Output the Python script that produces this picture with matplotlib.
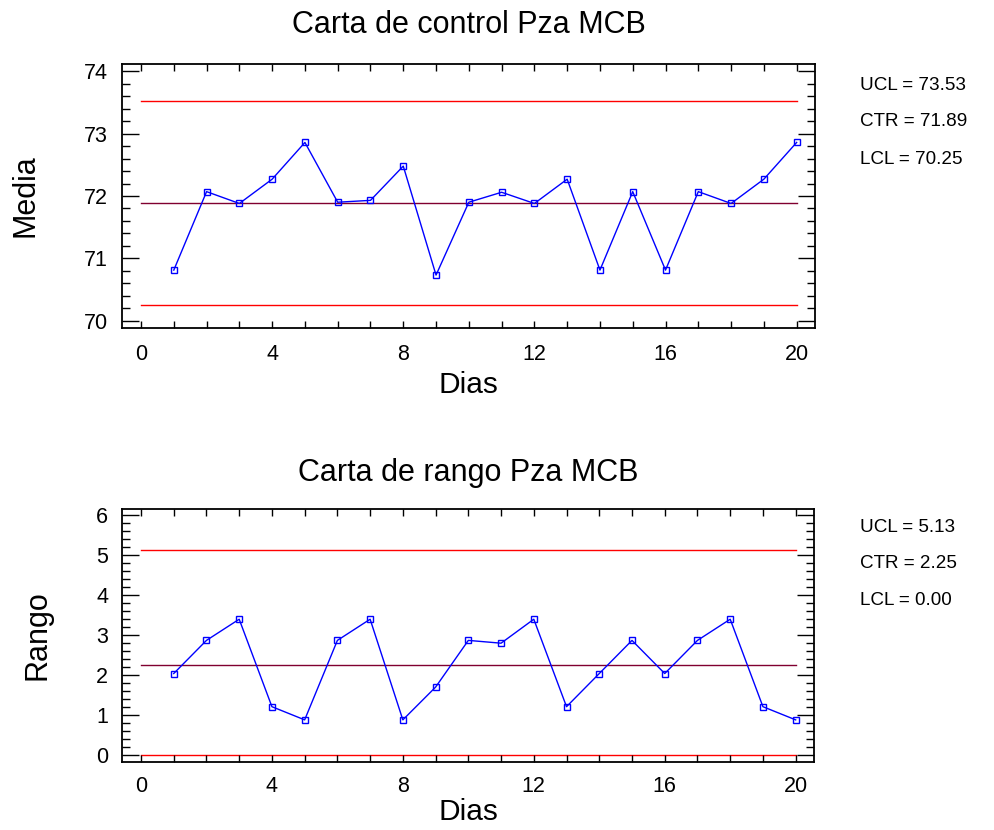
import matplotlib
matplotlib.use("Agg")
import matplotlib.pyplot as plt
from matplotlib.ticker import MultipleLocator

plt.rcParams['font.family'] = ['Liberation Sans', 'DejaVu Sans']

# Subgroup data (20 days)
dias = list(range(1, 21))
medias = [70.81, 72.07, 71.88, 72.27, 72.86, 71.90, 71.93, 72.48, 70.73, 71.90,
          72.06, 71.88, 72.27, 70.81, 72.07, 70.81, 72.07, 71.88, 72.27, 72.86]
rangos = [2.04, 2.87, 3.40, 1.21, 0.88, 2.87, 3.40, 0.88, 1.70, 2.87,
          2.80, 3.40, 1.21, 2.04, 2.87, 2.04, 2.87, 3.40, 1.21, 0.88]

# Control limits
media_lim = {"UCL": 73.53, "CTR": 71.89, "LCL": 70.25}
rango_lim = {"UCL": 5.13, "CTR": 2.25, "LCL": 0.00}

titles = ["Carta de control Pza MCB", "Carta de rango Pza MCB"]
ylabels = ["Media", "Rango"]
xticks = [0, 4, 8, 12, 16, 20]

W, H = 995, 830
fig = plt.figure(figsize=(W / 100, H / 100), dpi=100)

def px_axes(left, top, right, bottom):
    return fig.add_axes([left / W, 1 - bottom / H, (right - left) / W, (bottom - top) / H])

ax1 = px_axes(122, 64, 815, 328)
ax2 = px_axes(122, 509, 814, 762)

limit_colors = {"UCL": "#ff0000", "CTR": "#800030", "LCL": "#ff0000"}

def draw_chart(ax, values, limits, title, ylabel, ylim, yticks, text_ys,
               title_pad, xpad, xlabelpad):
    for key in ("UCL", "CTR", "LCL"):
        ax.plot([0, 20], [limits[key]] * 2, color=limit_colors[key], lw=1.0, zorder=1)
    ax.plot(dias, values, color="#0000ff", lw=1.0, marker="s", markersize=5,
            markerfacecolor="none", markeredgecolor="#0000ff", markeredgewidth=1.0, zorder=2)
    ax.set_xlim(-0.58, 20.56)
    ax.set_ylim(*ylim)
    ax.set_xticks(xticks)
    ax.set_yticks(yticks)
    ax.xaxis.set_minor_locator(MultipleLocator(1))
    ax.yaxis.set_minor_locator(MultipleLocator(0.2))
    ax.tick_params(axis="both", which="both", direction="in", top=True, right=True,
                   labelsize=15.5, width=1.0, colors="black")
    ax.tick_params(axis="y", which="major", length=12, pad=10)
    ax.tick_params(axis="y", which="minor", length=6)
    ax.tick_params(axis="x", which="both", length=5, pad=xpad)
    for s in ax.spines.values():
        s.set_linewidth(1.3)
    ax.set_title(title, fontsize=22, pad=title_pad)
    ax.set_ylabel(ylabel, fontsize=22, labelpad=31)
    ax.set_xlabel("Dias", fontsize=21.5, labelpad=xlabelpad)
    for key, y in zip(("UCL", "CTR", "LCL"), text_ys):
        fig.text(860 / W, 1 - y / H, f"{key} = {limits[key]:.2f}", fontsize=13.6,
                 ha="left", va="center")

draw_chart(ax1, medias, media_lim, titles[0], ylabels[0], (69.88, 74.12),
           [70, 71, 72, 73, 74], (85, 122, 159), 22, 11.5, 4)
draw_chart(ax2, rangos, rango_lim, titles[1], ylabels[1], (-0.175, 6.16),
           [0, 1, 2, 3, 4, 5, 6], (527, 563, 600), 20, 10, 1)

fig.savefig("out.png", dpi=100)
